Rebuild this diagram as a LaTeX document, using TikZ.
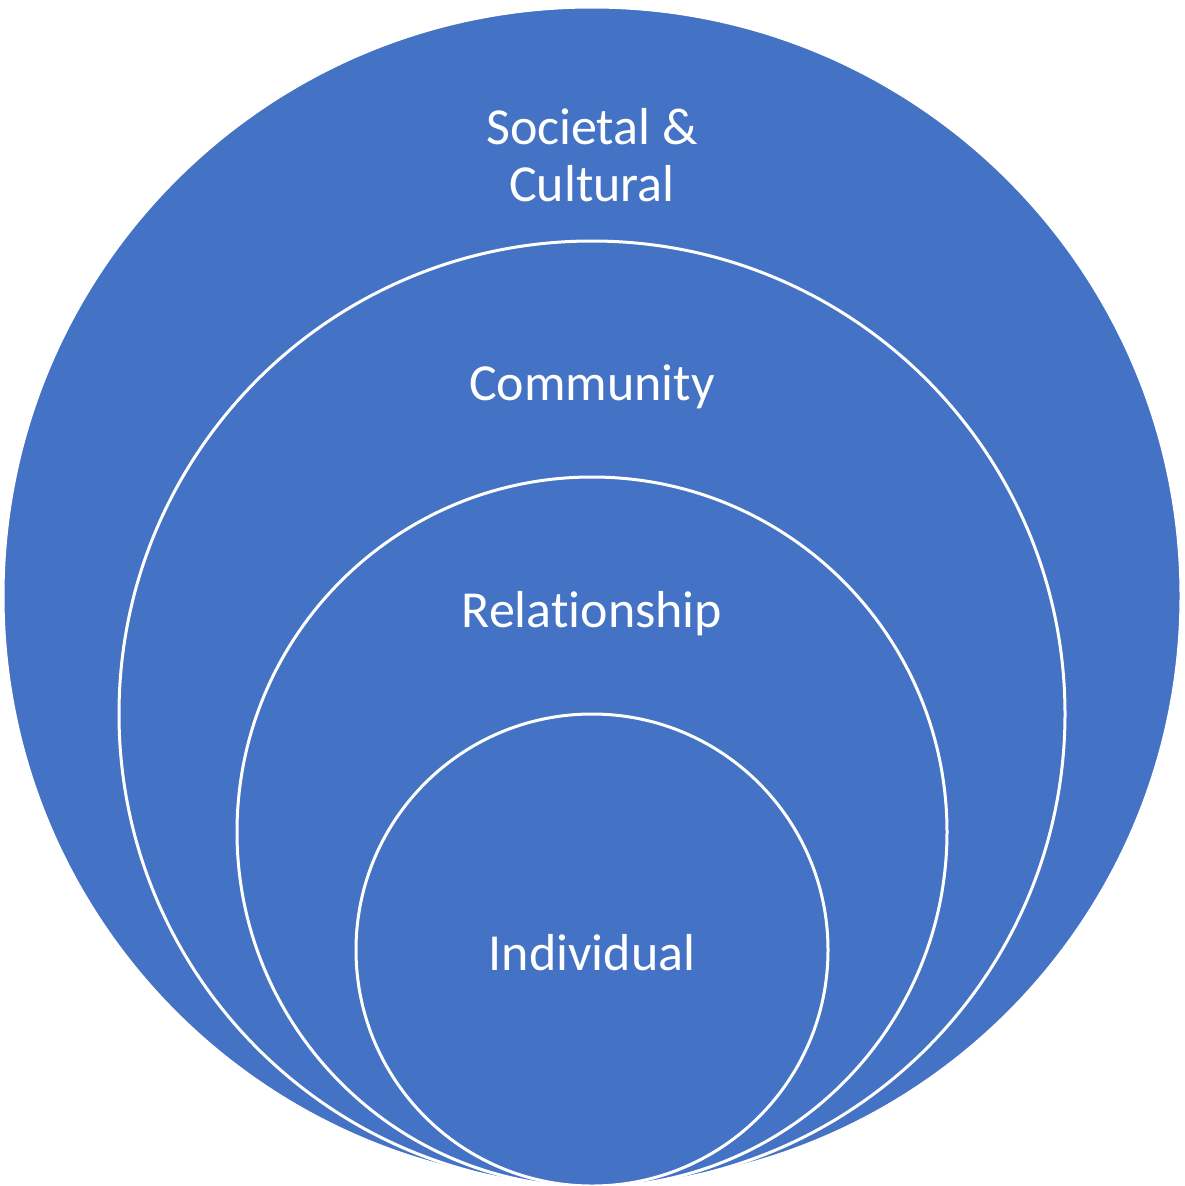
\documentclass[tikz,border=0pt]{standalone}
\usepackage{fontspec}
\setmainfont{Carlito}[Ligatures=NoCommon]
\definecolor{ringblue}{HTML}{4472C4}
\begin{document}
\begin{tikzpicture}[x=1pt,y=-1pt,
  ring/.style={fill=ringblue,draw=white,line width=3pt},
  lbl/.style={text=white,align=center,font=\fontsize{52}{57}\selectfont,inner sep=0pt}]
\useasboundingbox (0,0) rectangle (1185,1186);
\fill[white] (0,0) rectangle (1185,1186);
\draw[ring] (592,596) circle (589);
\draw[ring] (592,714) circle (473);
\draw[ring] (592,832) circle (355);
\draw[ring] (592,950) circle (236);
\node[lbl] (soc) at (592,155) {Societal \&\\Cultural};
\node[lbl] (com) at (592,387) {Community};
\node[lbl] (rel) at (592,614) {Relationship};
\node[lbl] (ind) at (592,953) {Individual};
\end{tikzpicture}
\end{document}
